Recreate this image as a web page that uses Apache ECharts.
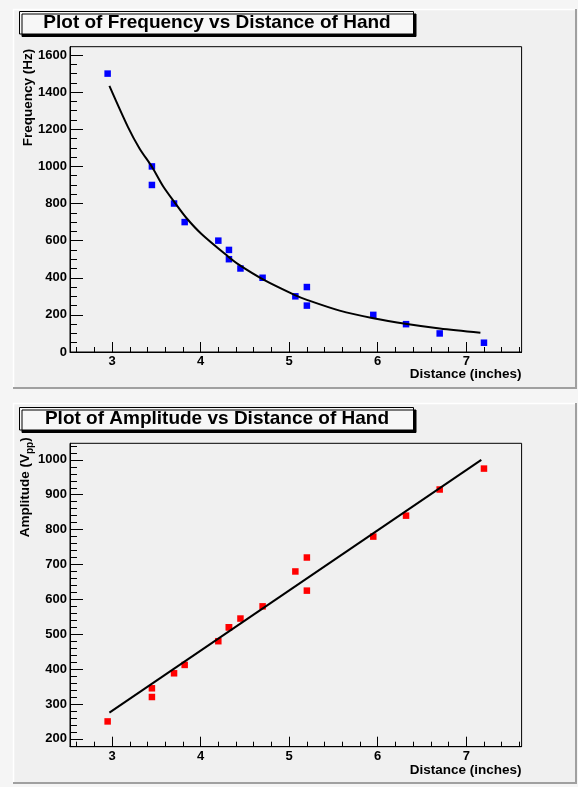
<!DOCTYPE html>
<html>
<head>
<meta charset="utf-8">
<script src="https://cdn.jsdelivr.net/npm/echarts@6/dist/echarts.min.js"></script>
<style>
  html, body { margin: 0; padding: 0; background: #f5f5f5; }
  #main { width: 578px; height: 787px; }
</style>
</head>
<body>
<div id="main"></div>
<script>
// measured points (distance in inches)
var distX = [2.95, 3.45, 3.45, 3.70, 3.82, 4.20, 4.32, 4.32, 4.45, 4.70, 5.07, 5.20, 5.20, 5.95, 6.32, 6.70, 7.20];
var freqY = [1500, 1000, 900, 800, 700, 600, 550, 500, 450, 400, 300, 350, 250, 200, 150, 100, 50];
var ampY = [250, 345, 320, 388, 412, 480, 520, 520, 545, 580, 680, 720, 625, 780, 840, 915, 975];

// fit curves
var freqFitX = [2.97, 3.18, 3.31, 3.45, 3.58, 3.71, 3.84, 4.01, 4.31, 4.44, 4.71, 5.06, 5.20, 5.57, 5.95, 6.33, 6.70, 7.16];
var freqFitY = [1434, 1212, 1097, 998, 890, 804, 722, 636, 515, 468, 390, 308, 281, 223, 182, 151, 127, 104];
var ampFitX = [2.97, 7.17];
var ampFitY = [275, 1000];

// ticks
var distTicks = [3, 4, 5, 6, 7];
var distMinor = [2.6, 2.8, 3.2, 3.4, 3.6, 3.8, 4.2, 4.4, 4.6, 4.8, 5.2, 5.4, 5.6, 5.8, 6.2, 6.4, 6.6, 6.8, 7.2, 7.4, 7.6];
var freqTicks = [0, 200, 400, 600, 800, 1000, 1200, 1400, 1600];
var freqMinor = [50, 100, 150, 250, 300, 350, 450, 500, 550, 650, 700, 750, 850, 900, 950, 1050, 1100, 1150, 1250, 1300, 1350, 1450, 1500, 1550];
var ampTicks = [200, 300, 400, 500, 600, 700, 800, 900, 1000];
var ampMinor = [180, 220, 240, 260, 280, 320, 340, 360, 380, 420, 440, 460, 480, 520, 540, 560, 580, 620, 640, 660, 680, 720, 740, 760, 780, 820, 840, 860, 880, 920, 940, 960, 980, 1020, 1040];

var FONT = 'Liberation Sans, Arial, sans-serif';

function zip(xs, ys) {
    return xs.map(function (x, i) { return [x, ys[i]]; });
}

function majorAxis(grid, pos, min, max, ticks, tickLen, extra) {
    var a = {
        type: 'value',
        gridIndex: grid,
        position: pos,
        min: min,
        max: max,
        axisLine: { show: true, onZero: false, lineStyle: { color: '#000', width: 1 } },
        axisTick: { show: true, inside: true, length: tickLen, customValues: ticks, lineStyle: { color: '#000', width: 1 } },
        axisLabel: {
            show: true, customValues: ticks, margin: 3, color: '#000',
            fontFamily: FONT, fontWeight: 'bold', fontSize: 13,
            formatter: function (v) { return String(v); }
        },
        splitLine: { show: false }
    };
    for (var k in extra) a[k] = extra[k];
    return a;
}

function minorAxis(grid, pos, min, max, ticks, tickLen) {
    return {
        type: 'value',
        gridIndex: grid,
        position: pos,
        min: min,
        max: max,
        axisLine: { show: false },
        axisTick: { show: true, inside: true, length: tickLen, customValues: ticks, lineStyle: { color: '#000', width: 1 } },
        axisLabel: { show: false },
        splitLine: { show: false }
    };
}

var titleFont = { color: '#000', fontFamily: FONT, fontWeight: 'bold', fontSize: 19 };
var axisNameFont = { color: '#000', fontFamily: FONT, fontWeight: 'bold', fontSize: 13.5 };

var chart = echarts.init(document.getElementById('main'));

var option = {
    backgroundColor: '#f5f5f5',
    animation: false,
    title: [
        { text: 'Plot of Frequency vs Distance of Hand', left: 217, top: 13, textAlign: 'center', padding: 0, z: 20, textStyle: titleFont },
        { text: 'Plot of Amplitude vs Distance of Hand', left: 217, top: 409, textAlign: 'center', padding: 0, z: 20, textStyle: titleFont },
        // x axis titles
        { text: 'Distance (inches)', right: 56.4, top: 367, padding: 0, textStyle: axisNameFont },
        { text: 'Distance (inches)', right: 56.4, top: 763.5, padding: 0, textStyle: axisNameFont }
    ],
    graphic: [
        // pads
        { type: 'rect', z: -10, shape: { x: 13, y: 9, width: 564, height: 380 }, style: { fill: '#f0f0f0' } },
        { type: 'polyline', z: -9, shape: { points: [[13.5, 389], [13.5, 9.5], [577, 9.5]] }, style: { stroke: '#ffffff', lineWidth: 1.5, fill: null } },
        { type: 'polyline', z: -9, shape: { points: [[13, 388], [576, 388], [576, 9]] }, style: { stroke: '#a0a0a0', lineWidth: 2, fill: null } },
        { type: 'rect', z: -10, shape: { x: 13, y: 403, width: 564, height: 381 }, style: { fill: '#f0f0f0' } },
        { type: 'polyline', z: -9, shape: { points: [[13.5, 784], [13.5, 403.5], [577, 403.5]] }, style: { stroke: '#ffffff', lineWidth: 1.5, fill: null } },
        { type: 'polyline', z: -9, shape: { points: [[13, 783], [576, 783], [576, 403]] }, style: { stroke: '#a0a0a0', lineWidth: 2, fill: null } },
        // title boxes
        { type: 'rect', z: 5, shape: { x: 19.5, y: 11.5, width: 394, height: 22.5 }, style: { fill: '#f7f7f7', stroke: '#000', lineWidth: 1, shadowColor: '#000', shadowOffsetX: 2.5, shadowOffsetY: 2.5, shadowBlur: 0 } },
        { type: 'rect', z: 5, shape: { x: 19.5, y: 407.5, width: 394, height: 22.5 }, style: { fill: '#f7f7f7', stroke: '#000', lineWidth: 1, shadowColor: '#000', shadowOffsetX: 2.5, shadowOffsetY: 2.5, shadowBlur: 0 } }
    ],
    grid: [
        { left: 70, top: 46.7, width: 451.6, height: 305.3, outerBoundsMode: 'none', containLabel: false, show: true, borderColor: '#000', borderWidth: 1, backgroundColor: 'transparent' },
        { left: 70, top: 443.3, width: 451.6, height: 303.4, outerBoundsMode: 'none', containLabel: false, show: true, borderColor: '#000', borderWidth: 1, backgroundColor: 'transparent' }
    ],
    xAxis: [
        majorAxis(0, 'bottom', 2.525, 7.625, distTicks, 10, {}),
        minorAxis(0, 'bottom', 2.525, 7.625, distMinor, 5),
        majorAxis(1, 'bottom', 2.525, 7.625, distTicks, 10, {}),
        minorAxis(1, 'bottom', 2.525, 7.625, distMinor, 5)
    ],
    yAxis: [
        majorAxis(0, 'left', 0, 1645, freqTicks, 13, {
            name: 'Frequency (Hz)',
            nameLocation: 'end',
            nameRotate: 90,
            nameGap: -2,
            nameTextStyle: { color: '#000', fontFamily: FONT, fontWeight: 'bold', fontSize: 13.5, align: 'right', verticalAlign: 'bottom', padding: [0, 0, 35, 0] }
        }),
        minorAxis(0, 'left', 0, 1645, freqMinor, 7),
        majorAxis(1, 'left', 177.5, 1047.5, ampTicks, 13, {
            name: '{a|Amplitude (V}{s|pp}{a|)}',
            nameLocation: 'end',
            nameRotate: 90,
            nameGap: 6,
            nameTextStyle: {
                align: 'right', verticalAlign: 'bottom', padding: [0, 0, 35, 0],
                rich: {
                    a: { color: '#000', fontFamily: FONT, fontWeight: 'bold', fontSize: 13.5, lineHeight: 20, verticalAlign: 'middle' },
                    s: { color: '#000', fontFamily: FONT, fontWeight: 'bold', fontSize: 10, lineHeight: 10, verticalAlign: 'bottom' }
                }
            }
        }),
        minorAxis(1, 'left', 177.5, 1047.5, ampMinor, 7)
    ],
    series: [
        {
            name: 'Frequency',
            type: 'scatter',
            xAxisIndex: 0, yAxisIndex: 0,
            symbol: 'rect', symbolSize: 6.5,
            itemStyle: { color: '#0000ff', opacity: 1 },
            data: zip(distX, freqY),
            z: 3
        },
        {
            name: 'Frequency fit',
            type: 'line',
            xAxisIndex: 0, yAxisIndex: 0,
            smooth: 0.3,
            showSymbol: false,
            lineStyle: { color: '#000', width: 2 },
            data: zip(freqFitX, freqFitY),
            z: 4
        },
        {
            name: 'Amplitude',
            type: 'scatter',
            xAxisIndex: 2, yAxisIndex: 2,
            symbol: 'rect', symbolSize: 6.5,
            itemStyle: { color: '#ff0000', opacity: 1 },
            data: zip(distX, ampY),
            z: 3
        },
        {
            name: 'Amplitude fit',
            type: 'line',
            xAxisIndex: 2, yAxisIndex: 2,
            showSymbol: false,
            lineStyle: { color: '#000', width: 2 },
            data: zip(ampFitX, ampFitY),
            z: 4
        }
    ]
};

chart.setOption(option);
</script>
</body>
</html>
